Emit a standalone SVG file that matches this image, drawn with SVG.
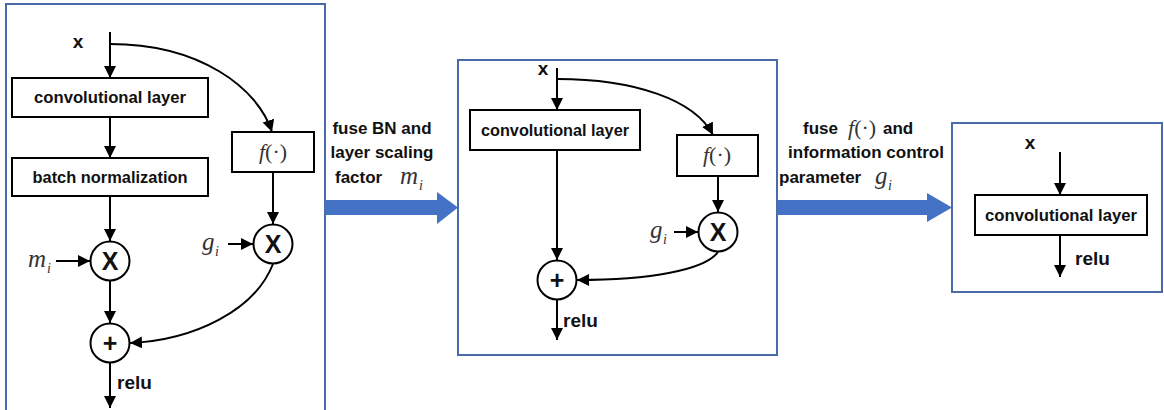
<svg xmlns="http://www.w3.org/2000/svg" width="1164" height="410" viewBox="0 0 1164 410">
<defs>
<marker id="ah" markerUnits="userSpaceOnUse" markerWidth="14" markerHeight="14" refX="12" refY="6" orient="auto"><path d="M0,0 L12,6 L0,12 z" fill="#000"/></marker>
</defs>
<style>
.panel{fill:#fff;stroke:#4a6aa8;stroke-width:2}
.box{fill:#fff;stroke:#000;stroke-width:2}
.c{fill:#fff;stroke:#000;stroke-width:2}
.ln{fill:none;stroke:#000;stroke-width:2}
.ar{fill:none;stroke:#000;stroke-width:2;marker-end:url(#ah)}
.t{font-family:"Liberation Sans",Arial,sans-serif;font-weight:bold;font-size:16px;fill:#111}
.lbl{font-family:"Liberation Sans",Arial,sans-serif;font-weight:bold;font-size:17px;fill:#111}
.rl{font-family:"Liberation Sans",Arial,sans-serif;font-weight:bold;font-size:19px;fill:#111}
.xl{font-family:"Liberation Sans",Arial,sans-serif;font-weight:bold;font-size:19px;fill:#111}
.op{font-family:"Liberation Sans",Arial,sans-serif;font-weight:bold;font-size:25px;fill:#111}
.m{font-family:"Liberation Serif","Times New Roman",serif;font-style:italic;font-size:25px;fill:#333}
.s{font-family:"Liberation Serif","Times New Roman",serif;font-style:italic;font-size:14px;fill:#333}
.f{font-family:"Liberation Serif","Times New Roman",serif;font-size:22px;fill:#333}
.big{fill:#4472c4}
</style>
<g id="panel1">
<rect class="panel" x="6" y="4" width="319" height="410"/>
</g>
<g id="panel2">
<rect class="panel" x="458" y="60" width="319" height="295"/>
</g>
<g id="panel3">
<rect class="panel" x="952" y="123" width="210" height="169"/>
</g>
<g id="x1"><text class="xl" x="78" y="48" text-anchor="middle">x</text></g>
<g id="conv1"><rect class="box" x="12" y="78" width="196" height="39"/><text class="t" x="110" y="103" text-anchor="middle" textLength="152" lengthAdjust="spacingAndGlyphs">convolutional layer</text></g>
<g id="bn1"><rect class="box" x="12" y="158" width="196" height="38"/><text class="t" x="110" y="183" text-anchor="middle" textLength="155" lengthAdjust="spacingAndGlyphs">batch normalization</text></g>
<g id="f1"><rect class="box" x="232" y="132" width="82" height="40"/><text class="f" x="273" y="159" text-anchor="middle"><tspan font-style="italic">f</tspan>(·)</text></g>
<g id="mul1"><circle class="c" cx="110" cy="261" r="19.5"/><text class="op" x="110" y="270" text-anchor="middle">X</text></g>
<g id="mul2"><circle class="c" cx="273" cy="244" r="19.5"/><text class="op" x="273" y="253" text-anchor="middle">X</text></g>
<g id="add1"><circle class="c" cx="110" cy="343" r="19.5"/><text class="op" x="110" y="352" text-anchor="middle">+</text></g>
<g id="mi1"><text class="m" x="28" y="267">m</text><text class="s" x="47" y="273">i</text></g>
<g id="gi1"><text class="m" x="202" y="250">g</text><text class="s" x="215" y="256">i</text></g>
<g id="relu1"><text class="rl" x="117" y="389">relu</text></g>

<g id="x2"><text class="xl" x="543" y="75" text-anchor="middle">x</text></g>
<g id="conv2"><rect class="box" x="470" y="110" width="170" height="40"/><text class="t" x="555" y="136" text-anchor="middle" textLength="148" lengthAdjust="spacingAndGlyphs">convolutional layer</text></g>
<g id="f2"><rect class="box" x="677" y="135" width="81" height="41"/><text class="f" x="717" y="162" text-anchor="middle"><tspan font-style="italic">f</tspan>(·)</text></g>
<g id="mul3"><circle class="c" cx="718" cy="232" r="19.5"/><text class="op" x="718" y="241" text-anchor="middle">X</text></g>
<g id="add2"><circle class="c" cx="557" cy="280" r="19.5"/><text class="op" x="557" y="289" text-anchor="middle">+</text></g>
<g id="gi2"><text class="m" x="650" y="238">g</text><text class="s" x="663" y="244">i</text></g>
<g id="relu2"><text class="rl" x="563" y="327">relu</text></g>

<g id="x3"><text class="xl" x="1030" y="149" text-anchor="middle">x</text></g>
<g id="conv3"><rect class="box" x="975" y="195" width="172" height="40"/><text class="t" x="1061" y="221" text-anchor="middle" textLength="152" lengthAdjust="spacingAndGlyphs">convolutional layer</text></g>
<g id="relu3"><text class="rl" x="1075" y="265">relu</text></g>

<g id="step1">
<path class="big" d="M325,200 L437,200 L437,192 L458,207.5 L437,224 L437,215 L325,215 z"/>
<text class="lbl" x="382" y="134" text-anchor="middle">fuse BN and</text>
<text class="lbl" x="382" y="158" text-anchor="middle">layer scaling</text>
<text class="lbl" x="335" y="183">factor</text>
<text class="m" x="400" y="184">m</text><text class="s" x="419" y="190">i</text>
</g>
<g id="step2">
<path class="big" d="M777,200 L927,200 L927,193 L952,207.5 L927,222 L927,215 L777,215 z"/>
<text class="lbl" x="803" y="134">fuse</text>
<text class="f" x="848" y="135"><tspan font-style="italic">f</tspan>(·)</text>
<text class="lbl" x="883" y="134">and</text>
<text class="lbl" x="866" y="158" text-anchor="middle">information control</text>
<text class="lbl" x="779" y="183">parameter</text>
<text class="m" x="875" y="184">g</text><text class="s" x="888" y="190">i</text>
</g>

<g id="connectors">
<line class="ln" x1="110" y1="32" x2="110" y2="44"/>
<line class="ar" x1="110" y1="44" x2="110" y2="78"/>
<path class="ar" d="M110,44 C200,44 258,88 272,132"/>
<line class="ar" x1="110" y1="117" x2="110" y2="158"/>
<line class="ar" x1="110" y1="196" x2="110" y2="241"/>
<line class="ar" x1="273" y1="172" x2="273" y2="224"/>
<line class="ar" x1="56" y1="261" x2="90" y2="261"/>
<line class="ar" x1="228" y1="244" x2="253" y2="244"/>
<line class="ar" x1="110" y1="281" x2="110" y2="323"/>
<path class="ar" d="M273,264 C255,310 195,340 130,343"/>
<line class="ar" x1="110" y1="363" x2="110" y2="408"/>

<line class="ar" x1="557" y1="68" x2="557" y2="110"/>
<path class="ar" d="M557,79 C635,79 695,100 713,135"/>
<line class="ar" x1="557" y1="150" x2="557" y2="260"/>
<line class="ar" x1="718" y1="176" x2="718" y2="212"/>
<line class="ar" x1="674" y1="232" x2="698" y2="232"/>
<path class="ar" d="M718,252 C705,270 650,280 577,280"/>
<line class="ar" x1="557" y1="300" x2="557" y2="340"/>

<line class="ar" x1="1060" y1="152" x2="1060" y2="195"/>
<line class="ar" x1="1060" y1="235" x2="1060" y2="277"/>
</g>
</svg>
